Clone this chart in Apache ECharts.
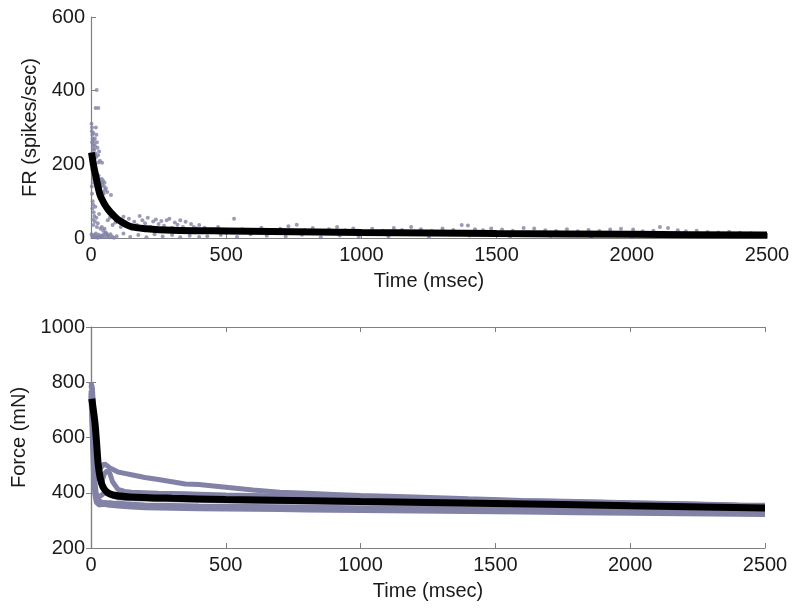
<!DOCTYPE html>
<html>
<head>
<meta charset="utf-8">
<script src="https://cdn.jsdelivr.net/npm/echarts@6/dist/echarts.min.js"></script>
<style>html,body{margin:0;padding:0;background:#fff}#c{width:800px;height:614px}</style>
</head>
<body>
<div id="c"></div>
<script>
// ---- Top panel: firing rate scatter (time msec, FR spikes/sec) ----
const frPoints = [
[2,310],[3,290],[4,300],[5,280],[6,270],[4,260],[7,250],[8,240],[5,230],[9,285],[10,265],[11,255],[6,220],[12,240],[14,270],[15,250],[8,210],[13,215],[17,353],[27,353],[21,402],[16,230],[18,300],[20,280],[22,260],[24,245],[19,220],[26,225],[28,205],[30,235],[33,210],[41,204],
[3,200],[5,185],[7,175],[9,160],[11,150],[13,170],[15,180],[18,165],[20,140],[23,155],[25,145],[28,170],[30,160],[33,150],[35,140],[38,150],[40,160],[42,145],[45,155],[48,140],[50,150],[52,130],[55,135],[47,120],[43,125],[60,125],[74,117],
[3,140],[4,120],[6,100],[5,80],[8,90],[10,70],[12,60],[7,50],[14,45],[9,35],[16,85],[20,55],[25,40],[30,65],[22,30],[35,25],[40,30],[45,20],[50,25],[55,15],[60,10],
[2,10],[5,5],[8,3],[12,8],[15,2],[18,12],[22,4],[25,1],[28,9],[32,3],[36,6],[40,2],[44,8],[48,4],[52,12],[58,3],[63,7],[68,2],[72,10],[78,4],[85,1],
[62,48],[70,55],[80,35],[90,42],[100,50],[110,30],[115,45],[120,58],[130,38],[140,52],[150,25],[160,44],[170,35],[180,60],[190,48],[200,40],[210,55],[220,30],[230,45],[240,50],[250,38],[260,46],[270,33],[280,48],[290,52],[300,28],[310,42],[320,36],[330,48],[340,30],[350,44],[360,22],[370,38],[380,30],[390,26],[400,35],
[95,5],[120,12],[145,3],[175,8],[205,2],[235,10],[265,4],[300,8],[330,2],[365,6],[400,3],
[420,28],[450,22],[470,30],[500,15],[529,52],[560,24],[600,20],[630,28],[660,18],[700,25],[730,32],[761,36],[790,22],[820,27],[850,19],[880,24],[910,30],[940,21],[970,26],[1000,18],
[430,5],[480,8],[540,3],[590,10],[650,6],[720,4],[780,9],[850,2],[920,7],[990,5],
[1040,25],[1080,20],[1120,27],[1150,22],[1184,30],[1220,24],[1260,19],[1300,26],[1340,22],[1371,35],[1394,34],[1420,24],[1450,21],[1480,26],[1520,23],[1560,20],[1600,27],[1639,26],[1680,21],[1720,19],[1760,24],[1800,18],[1840,22],[1880,19],[1920,23],[1960,25],[2005,23],[2040,18],[2080,20],[2104,30],[2134,27],[2170,21],[2200,18],[2240,20],[2280,16],[2320,15],[2360,17],[2400,14],[2440,13],
[1100,5],[1250,3],[1400,7],[1550,4],[1700,6],[1850,3],[2000,5],[2150,4],[2300,6]
];
const fitFrT = [2,10,20,33,50,65,81,100,144,206,300,500,1000,1500,2000,2500];
const fitFr  = [232,195,160,118,92,76,63,50,32,25,21,19,15,12,10,8];

// ---- Bottom panel: force traces (time msec, force mN) ----
const forceT = [0,5,10,15,20,25,30,40,50,60,70,80,100,125,150,200,250,300,350,400,500,600,700,800,900,1000,1200,1400,1600,1800,2000,2200,2400,2500];
const trace1 = [800,780,700,620,560,510,480,495,505,498,490,485,475,470,465,455,448,440,432,430,420,410,402,398,394,390,385,378,372,368,364,360,356,355];
const trace2 = [790,760,680,600,540,490,450,440,470,480,470,440,412,405,402,400,398,397,396,395,392,390,388,386,385,383,379,375,371,367,363,359,355,353];
const trace3 = [770,700,560,430,395,388,385,392,400,396,392,388,382,380,378,377,376,375,374,373,371,369,368,367,366,365,362,359,356,353,350,347,344,343];
const trace4 = [760,650,500,410,380,372,368,366,365,364,364,363,362,360,358,356,355,354,353,352,351,350,349,348,347,346,344,342,340,338,336,334,332,331];
const trace5 = [750,600,450,390,365,358,356,357,358,356,355,354,352,350,348,346,345,344,343,342,341,340,339,338,337,336,334,332,330,328,326,324,322,321];
const fitForceT = [3,10,15,20,27,35,45,60,82,144,300,500,1000,1500,2000,2500];
const fitForce  = [740,690,650,590,500,450,420,402,392,385,380,376,368,361,353,345];

const xTicks = [0,500,1000,1500,2000,2500];
const frTicks = [0,200,400,600];
const forceTicks = [200,400,600,800,1000];

const GRAY = '#8282a6';
const AX = '#808080';
const FONT = 'Liberation Sans, Arial, sans-serif';
const txt = {color:'#1a1a1a', fontSize:20, fontFamily:FONT};
const fmt = v => String(v);

function zip(a,b){return a.map((v,i)=>[v,b[i]]);}

const chart = echarts.init(document.getElementById('c'), null, {renderer:'canvas'});

function xAxisCfg(grid, show, name){
  return {type:'value', gridIndex:grid, min:xTicks[0], max:xTicks[xTicks.length-1], interval:500,
    name: name, nameLocation:'middle', nameGap:33, nameTextStyle:txt,
    axisLine:{show:true, onZero:false, lineStyle:{color:AX, width:1.2}},
    axisTick:{show:true, inside:true, length:5, lineStyle:{color:AX}},
    axisLabel:{show:show, margin:7, formatter:fmt, ...txt},
    splitLine:{show:false}};
}

const option = {
  animation:false,
  backgroundColor:'#fff',
  grid:[
    {left:91, top:17, width:676, height:221},
    {left:91, top:327, width:674, height:221}
  ],
  xAxis:[
    xAxisCfg(0,true,'Time (msec)'),
    xAxisCfg(1,true,'Time (msec)'),
    Object.assign(xAxisCfg(1,false,''),{position:'top'})
  ],
  yAxis:[
    {type:'value', gridIndex:0, min:frTicks[0], max:frTicks[frTicks.length-1], interval:200,
      name:'FR (spikes/sec)', nameLocation:'middle', nameGap:50, nameTextStyle:txt,
      axisLine:{show:true, lineStyle:{color:AX, width:1.2}},
      axisTick:{show:true, inside:true, length:5, lineStyle:{color:AX}},
      axisLabel:{margin:6, formatter:fmt, ...txt}, splitLine:{show:false}},
    {type:'value', gridIndex:1, min:forceTicks[0], max:forceTicks[forceTicks.length-1], interval:200,
      name:'Force (mN)', nameLocation:'middle', nameGap:61, nameTextStyle:txt,
      axisLine:{show:true, lineStyle:{color:AX, width:1.2}},
      axisTick:{show:true, inside:true, length:5, lineStyle:{color:AX}},
      axisLabel:{margin:6, formatter:fmt, ...txt}, splitLine:{show:false}},
    {type:'value', gridIndex:1, min:forceTicks[0], max:forceTicks[forceTicks.length-1], interval:200, position:'right',
      axisLine:{show:true, lineStyle:{color:AX, width:1.2}},
      axisTick:{show:true, inside:true, length:5, lineStyle:{color:AX}},
      axisLabel:{show:false}, splitLine:{show:false}}
  ],
  series:[
    {type:'scatter', xAxisIndex:0, yAxisIndex:0, data:frPoints, symbolSize:4,
      itemStyle:{color:GRAY}, z:2, silent:true},
    {type:'line', xAxisIndex:0, yAxisIndex:0, data:zip(fitFrT,fitFr), showSymbol:false, smooth:0.3,
      lineStyle:{color:'#000', width:7}, z:3, silent:true},
    ...[trace1,trace2,trace3,trace4,trace5].map(tr=>({type:'line', xAxisIndex:1, yAxisIndex:1,
      data:zip(forceT,tr), showSymbol:false, lineStyle:{color:GRAY, width:5}, z:2, silent:true})),
    {type:'line', xAxisIndex:1, yAxisIndex:1, data:zip(fitForceT,fitForce), showSymbol:false, smooth:0.3,
      lineStyle:{color:'#000', width:7}, z:3, silent:true}
  ]
};
chart.setOption(option);
</script>
</body>
</html>
